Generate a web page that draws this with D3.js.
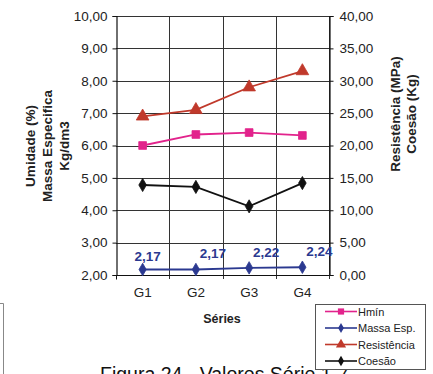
<!DOCTYPE html>
<html>
<head>
<meta charset="utf-8">
<script src="https://cdn.jsdelivr.net/npm/d3@7"></script>
<style>
  html, body { margin: 0; padding: 0; background: #fff; overflow: hidden; }
  svg { display: block; font-family: Arial, "Liberation Sans", sans-serif; }
</style>
</head>
<body>
<svg id="chart" width="433" height="374"></svg>
<script>
// Categories and series
const series = ["G1", "G2", "G3", "G4"];
const hmin = [6.00, 6.34, 6.40, 6.31];          // left axis
const massaEsp = [2.17, 2.17, 2.22, 2.24];      // left axis
const resistencia = [24.5, 25.5, 29.0, 31.5];   // right axis
const coesao = [13.9, 13.6, 10.6, 14.2];        // right axis

const leftTicks = [2, 3, 4, 5, 6, 7, 8, 9, 10];
const rightTicks = [0, 5, 10, 15, 20, 25, 30, 35, 40];
const legendNames = ["Hmín", "Massa Esp.", "Resistência", "Coesão"];

const colors = { hmin: "#e2238c", massa: "#2b3990", res: "#c0392b", coe: "#111111" };

const svg = d3.select("#chart");
const plot = { left: 116, right: 329, top: 16, bottom: 275 };

const x = d3.scaleBand().domain(series).range([plot.left, plot.right]);
const yL = d3.scaleLinear().domain([2, 10]).range([plot.bottom, plot.top]);
const yR = d3.scaleLinear().domain([0, 40]).range([plot.bottom, plot.top]);
const cx = d => x(d) + x.bandwidth() / 2;
const fmt = v => d3.format(".2f")(v).replace(".", ",");

// Caption below the chart (drawn first so the legend sits on top)
svg.append("text").attr("x", 100).attr("y", 381).attr("font-size", 19.5)
  .attr("fill", "#111").text("Figura 24 - Valores Série 1-7");

// Gridlines
const grid = svg.append("g").attr("stroke", "#333").attr("stroke-width", 1);
leftTicks.forEach(t => grid.append("line")
  .attr("x1", plot.left).attr("x2", plot.right)
  .attr("y1", Math.round(yL(t)) + 0.5).attr("y2", Math.round(yL(t)) + 0.5));
series.slice(1).forEach(s => grid.append("line")
  .attr("x1", Math.round(x(s)) + 0.5).attr("x2", Math.round(x(s)) + 0.5)
  .attr("y1", plot.top).attr("y2", plot.bottom + 4));
grid.append("line").attr("x1", plot.right + 0.5).attr("x2", plot.right + 0.5)
  .attr("y1", plot.top).attr("y2", plot.bottom + 4);

// Left axis
const axL = svg.append("g").attr("transform", `translate(${plot.left + 0.5},0)`)
  .call(d3.axisLeft(yL).tickValues(leftTicks).tickFormat(fmt).tickSize(4).tickPadding(5));
// Right axis
const axR = svg.append("g").attr("transform", `translate(${plot.right + 0.5},0)`)
  .call(d3.axisRight(yR).tickValues(rightTicks).tickFormat(fmt).tickSize(4).tickPadding(6));
// Bottom axis
const axB = svg.append("g").attr("transform", `translate(0,${plot.bottom + 0.5})`)
  .call(d3.axisBottom(x).tickSize(0).tickPadding(12));
[axL, axR, axB].forEach(a => {
  a.selectAll("path.domain").attr("stroke", "#111").attr("stroke-width", 1.2);
  a.selectAll("line").attr("stroke", "#111");
  a.selectAll("text").attr("font-size", 13.5).attr("fill", "#222")
    .attr("font-family", "Arial, 'Liberation Sans', sans-serif");
});
axB.select("path.domain").attr("d", `M${plot.left},0H${plot.right}`);
axB.append("line").attr("x1", plot.left + 0.5).attr("x2", plot.left + 0.5).attr("y1", 0).attr("y2", 4).attr("stroke", "#111");

// Axis titles
const leftTitle = ["Umidade (%)", "Massa Especifica", "Kg/dm3"];
leftTitle.forEach((t, i) => svg.append("text")
  .attr("transform", `translate(${35 + i * 17},146) rotate(-90)`)
  .attr("text-anchor", "middle").attr("font-size", 13.5).attr("font-weight", "bold")
  .attr("fill", "#222").text(t));
const rightTitle = ["Resistência (MPa)", "Coesão (Kg)"];
rightTitle.forEach((t, i) => svg.append("text")
  .attr("transform", `translate(${400 + i * 16},114) rotate(-90)`)
  .attr("text-anchor", "middle").attr("font-size", 13.5).attr("font-weight", "bold")
  .attr("fill", "#222").text(t));
svg.append("text").attr("x", 222).attr("y", 323).attr("text-anchor", "middle")
  .attr("font-size", 12.5).attr("font-weight", "bold").attr("fill", "#222").text("Séries");

// Markers
const sym = {
  square: d3.symbol().type(d3.symbolSquare).size(60),
  diamond: d3.symbol().type(d3.symbolDiamond).size(50),
  triangle: d3.symbol().type(d3.symbolTriangle).size(70),
  circle: d3.symbol().type(d3.symbolDiamond).size(45)
};

function drawSeries(vals, scale, color, shape) {
  const line = d3.line().x((d, i) => cx(series[i])).y(d => scale(d));
  svg.append("path").datum(vals).attr("d", line)
    .attr("fill", "none").attr("stroke", color).attr("stroke-width", 1.8);
  svg.append("g").selectAll("path").data(vals).join("path")
    .attr("transform", (d, i) => `translate(${cx(series[i])},${scale(d)})`)
    .attr("d", sym[shape]()).attr("fill", color).attr("stroke", color).attr("stroke-width", 0.8);
}
drawSeries(hmin, yL, colors.hmin, "square");
drawSeries(resistencia, yR, colors.res, "triangle");
drawSeries(coesao, yR, colors.coe, "diamond");
drawSeries(massaEsp, yL, colors.massa, "circle");

// Value labels for Massa Esp.
const labelShift = [5, 17, 17, 17];
svg.append("g").selectAll("text").data(massaEsp).join("text")
  .attr("x", (d, i) => cx(series[i]) + labelShift[i])
  .attr("y", (d, i) => yL(d) - (i === 0 ? 8 : 11))
  .attr("text-anchor", "middle").attr("font-size", 13.5).attr("font-weight", "bold")
  .attr("fill", colors.massa).text(fmt);

// Legend
const lg = svg.append("g").attr("transform", "translate(315,304)");
lg.append("rect").attr("x", 0.5).attr("y", 0.5).attr("width", 110).attr("height", 65)
  .attr("fill", "#fff").attr("stroke", "#555").attr("stroke-width", 1);
const legendItems = [
  { c: colors.hmin, s: "square" }, { c: colors.massa, s: "circle" },
  { c: colors.res, s: "triangle" }, { c: colors.coe, s: "diamond" }
];
legendItems.forEach((it, i) => {
  const yy = 7.5 + i * 16.5;
  lg.append("line").attr("x1", 10).attr("x2", 42).attr("y1", yy).attr("y2", yy)
    .attr("stroke", it.c).attr("stroke-width", 1.6);
  lg.append("path").attr("transform", `translate(26,${yy}) scale(0.8)`)
    .attr("d", sym[it.s]()).attr("fill", it.c);
  lg.append("text").attr("x", 43).attr("y", yy + 4).attr("font-size", 11)
    .attr("fill", "#222").text(legendNames[i]);
});

// Partial frame at lower left
svg.append("path").attr("d", "M0,303.5H3.5V374").attr("fill", "none")
  .attr("stroke", "#888").attr("stroke-width", 1);
</script>
</body>
</html>
